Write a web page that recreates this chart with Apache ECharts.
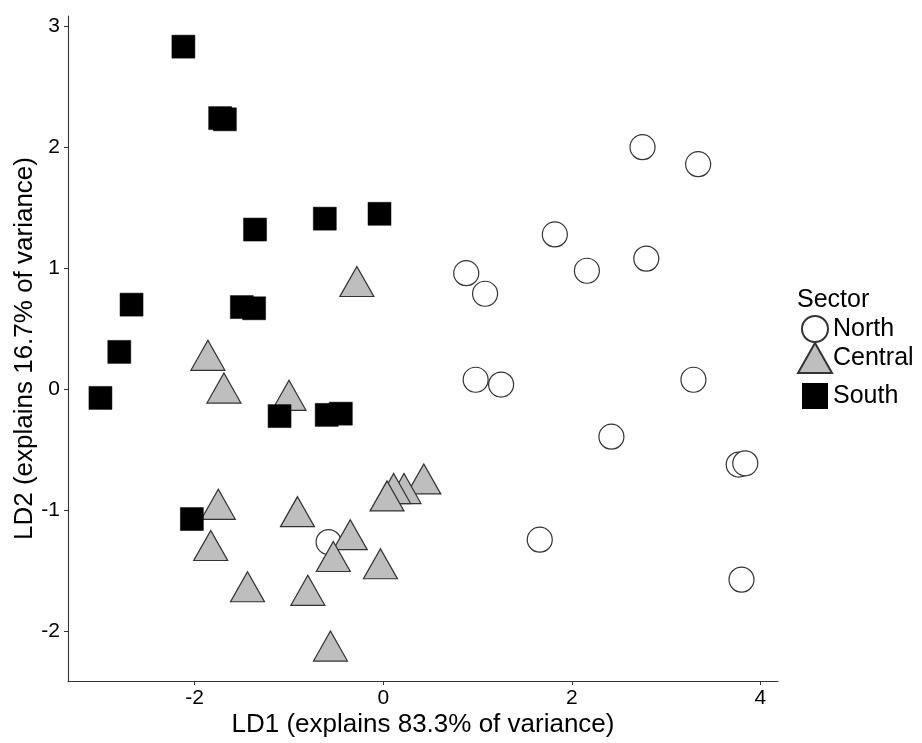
<!DOCTYPE html>
<html>
<head>
<meta charset="utf-8">
<script src="https://cdn.jsdelivr.net/npm/echarts@6/dist/echarts.min.js"></script>
<style>html,body{margin:0;padding:0;background:#fff}#c{width:922px;height:743px}</style>
</head>
<body>
<div id="c"></div>
<script>
const groups = ['North', 'Central', 'South'];
const northX = [2.75, 3.34, 1.82, 2.79, 2.16, 0.88, 1.08, 0.98, 1.25, 3.29, 2.42, 3.77, 3.84, 1.66, 3.80, -0.58];
const northY = [2.00, 1.86, 1.28, 1.08, 0.98, 0.96, 0.79, 0.08, 0.04, 0.08, -0.39, -0.62, -0.61, -1.24, -1.57, -1.26];
const centralX = [-0.28, -1.86, -1.69, -1.00, -1.75, -0.91, -1.83, -0.35, -0.53, -0.03, -1.44, -0.80, -0.56, 0.43, 0.22, 0.11, 0.04];
const centralY = [0.85, 0.24, -0.03, -0.09, -0.99, -1.05, -1.33, -1.24, -1.42, -1.48, -1.67, -1.70, -2.16, -0.78, -0.86, -0.86, -0.92];
const southX = [-2.12, -1.73, -1.68, -1.36, -0.62, -0.04, -2.67, -1.50, -1.37, -2.80, -3.00, -1.10, -0.60, -0.45, -2.03];
const southY = [2.83, 2.24, 2.23, 1.32, 1.41, 1.45, 0.70, 0.68, 0.67, 0.31, -0.07, -0.22, -0.21, -0.20, -1.07];
const xTicks = [-2, 0, 2, 4];
const yTicks = [-2, -1, 0, 1, 2, 3];

const zip = (a, b) => a.map((v, i) => [v, b[i]]);
const FONT = 'Liberation Sans, Arial, sans-serif';

const chart = echarts.init(document.getElementById('c'), null, {renderer: 'canvas'});
const legendText = (pad) => ({fontFamily: FONT, fontSize: 25, color: '#000', padding: pad});
const legendBase = {orient: 'vertical', itemGap: 0, selectedMode: false, padding: 0};
chart.setOption({
  animation: false,
  backgroundColor: '#fff',
  grid: {left: 68, right: 144, top: 16, bottom: 62, containLabel: false, outerBoundsMode: 'none'},
  xAxis: {
    type: 'value', min: -3.344, max: 4.187,
    name: 'LD1 (explains 83.3% of variance)', nameLocation: 'middle', nameGap: 31, nameMoveOverlap: false,
    nameTextStyle: {fontFamily: FONT, fontSize: 26, color: '#000'},
    axisLine: {show: true, onZero: false, lineStyle: {color: '#333', width: 1.1}},
    axisTick: {show: true, length: 4, customValues: xTicks, lineStyle: {color: '#333'}},
    axisLabel: {customValues: xTicks, margin: 7, fontFamily: FONT, fontSize: 21, color: '#000'},
    splitLine: {show: false}
  },
  yAxis: {
    type: 'value', min: -2.407, max: 3.083,
    name: 'LD2 (explains 16.7% of variance)', nameLocation: 'middle', nameGap: 30, nameRotate: 90, nameMoveOverlap: false,
    nameTextStyle: {fontFamily: FONT, fontSize: 26, color: '#000'},
    axisLine: {show: true, onZero: false, lineStyle: {color: '#333', width: 1.1}},
    axisTick: {show: true, length: 4, customValues: yTicks, lineStyle: {color: '#333'}},
    axisLabel: {customValues: yTicks, margin: 8, fontFamily: FONT, fontSize: 21, color: '#000'},
    splitLine: {show: false}
  },
  legend: [
    Object.assign({}, legendBase, {data: [{name: 'North', icon: 'circle'}], left: 801, top: 315, itemWidth: 26, itemHeight: 26, textStyle: legendText([3, 0, 0, 0])}),
    Object.assign({}, legendBase, {data: [{name: 'Central', icon: 'triangle'}], left: 797, top: 342, itemWidth: 34, itemHeight: 30, textStyle: legendText([9, 0, 0, -4])}),
    Object.assign({}, legendBase, {data: [{name: 'South', icon: 'rect'}], left: 802, top: 383, itemWidth: 24, itemHeight: 24, textStyle: legendText([0, 0, 2, 1])})
  ],
  title: {text: 'Sector', left: 792, top: 283, textStyle: {fontFamily: FONT, fontSize: 25, fontWeight: 'normal', color: '#000'}},
  series: [
    {name: groups[0], type: 'scatter', symbol: 'circle', symbolSize: 25, data: zip(northX, northY),
     itemStyle: {color: '#fff', borderColor: '#333', borderWidth: 1.2, opacity: 1}, z: 2},
    {name: groups[1], type: 'scatter', symbol: 'triangle', symbolSize: [34, 30], symbolOffset: [0, -5], data: zip(centralX, centralY),
     itemStyle: {color: '#bebebe', borderColor: '#333', borderWidth: 1.2, opacity: 1}, z: 3},
    {name: groups[2], type: 'scatter', symbol: 'rect', symbolSize: 23, data: zip(southX, southY),
     itemStyle: {color: '#000', borderColor: '#000', borderWidth: 0.5, opacity: 1}, z: 4}
  ]
});
</script>
</body>
</html>
